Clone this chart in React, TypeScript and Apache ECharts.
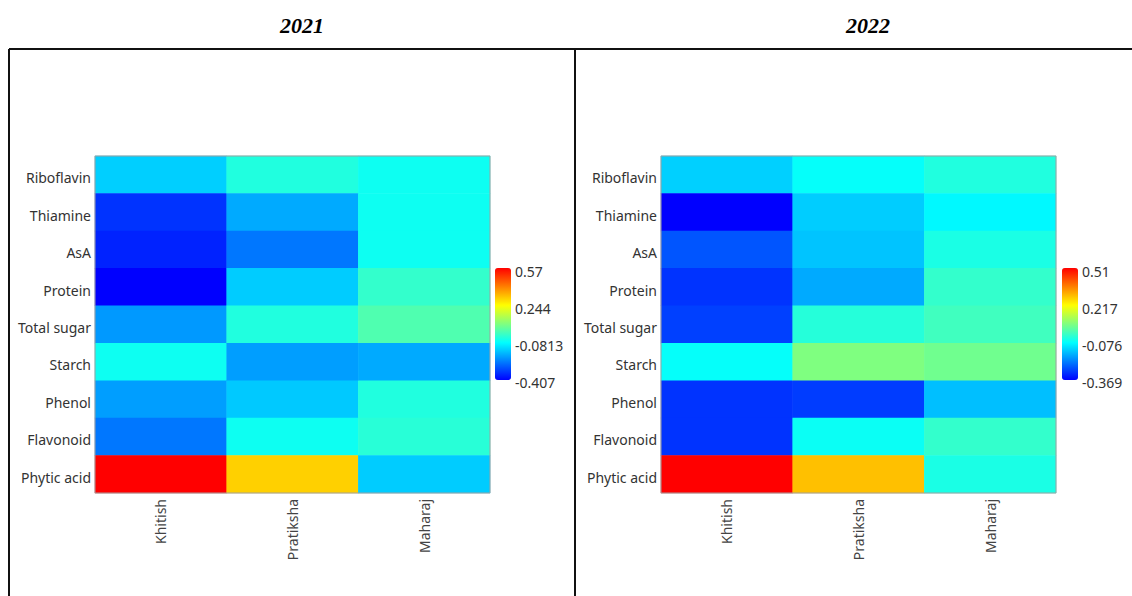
import { useEffect, useRef } from 'react';
import * as echarts from 'echarts';

// Nutritional traits (rows, top to bottom) and cultivars (columns)
const TRAITS = ['Riboflavin', 'Thiamine', 'AsA', 'Protein', 'Total sugar', 'Starch', 'Phenol', 'Flavonoid', 'Phytic acid'];
const CULTIVARS = ['Khitish', 'Pratiksha', 'Maharaj'];
const YEARS = ['2021', '2022'];

// 2021 values per cultivar, in TRAITS order
const KHITISH_2021 = [-0.143, -0.342, -0.364, -0.407, -0.212, -0.065, -0.205, -0.255, 0.57];
const PRATIKSHA_2021 = [-0.041, -0.19, -0.255, -0.146, -0.041, -0.205, -0.15, -0.065, 0.304];
const MAHARAJ_2021 = [-0.065, -0.065, -0.065, -0.016, 0.02, -0.19, -0.04, -0.03, -0.146];

// 2022 values per cultivar, in TRAITS order
const KHITISH_2022 = [-0.13, -0.369, -0.271, -0.31, -0.295, -0.07, -0.31, -0.31, 0.51];
const PRATIKSHA_2022 = [-0.07, -0.134, -0.144, -0.174, -0.033, 0.07, -0.3, -0.065, 0.289];
const MAHARAJ_2022 = [-0.039, -0.083, -0.046, -0.017, -0.003, 0.053, -0.149, -0.017, -0.046];

// Colour-scale tick labels, bottom to top
const SCALE_TICKS_2021 = ['-0.407', '-0.0813', '0.244', '0.57'];
const SCALE_TICKS_2022 = ['-0.369', '-0.076', '0.217', '0.51'];

const JET = ['#0000ff', '#00ffff', '#ffff00', '#ff0000'];
const LABEL_FONT = '"Noto Sans", "Open Sans", sans-serif';

function toCells(columns: number[][]) {
  const cells: [number, number, number][] = [];
  columns.forEach((col, c) => col.forEach((v, r) => cells.push([c, r, v])));
  return cells;
}

const panels = [
  { year: YEARS[0], columns: [KHITISH_2021, PRATIKSHA_2021, MAHARAJ_2021], ticks: SCALE_TICKS_2021, gridLeft: 95, barLeft: 495, titleX: 302 },
  { year: YEARS[1], columns: [KHITISH_2022, PRATIKSHA_2022, MAHARAJ_2022], ticks: SCALE_TICKS_2022, gridLeft: 661, barLeft: 1062, titleX: 868 },
];

function buildOption(): echarts.EChartsOption {
  const grid: any[] = [];
  const xAxis: any[] = [];
  const yAxis: any[] = [];
  const series: any[] = [];
  const visualMap: any[] = [];
  const graphic: any[] = [];

  panels.forEach((p, i) => {
    // heatmap grid
    grid.push({
      left: p.gridLeft, top: 156, width: 395, height: 337,
      show: true, borderColor: '#a0a0a0', borderWidth: 1, backgroundColor: 'transparent', z: 5,
    });
    xAxis.push({
      type: 'category', gridIndex: i * 2, data: CULTIVARS, position: 'bottom',
      axisLine: { show: false }, axisTick: { show: false }, splitLine: { show: false },
      axisLabel: { rotate: 90, fontSize: 14, color: '#444', margin: 6, fontFamily: LABEL_FONT },
    });
    // trait labels sit a little below the row centre
    yAxis.push({
      type: 'category', gridIndex: i * 2, data: TRAITS, inverse: true,
      axisLine: { show: false }, axisTick: { show: false }, splitLine: { show: false },
      axisLabel: { fontSize: 14, color: '#333', margin: 4, verticalAlign: 'top', lineHeight: 6, fontFamily: LABEL_FONT },
    });
    series.push({
      type: 'heatmap', xAxisIndex: i * 2, yAxisIndex: i * 2,
      data: toCells(p.columns), itemStyle: { borderWidth: 0 }, emphasis: { disabled: true },
    });

    // colour-scale tick labels
    grid.push({ left: p.barLeft, top: 271, width: 16, height: 111, show: false });
    xAxis.push({ type: 'value', gridIndex: i * 2 + 1, show: false });
    yAxis.push({
      type: 'category', gridIndex: i * 2 + 1, data: p.ticks, boundaryGap: false, position: 'right',
      axisLine: { show: false }, axisTick: { show: false }, splitLine: { show: false },
      axisLabel: { fontSize: 14, color: '#333', margin: 4, fontFamily: LABEL_FONT },
    });

    visualMap.push({
      type: 'continuous', seriesIndex: i,
      min: parseFloat(p.ticks[0]), max: parseFloat(p.ticks[p.ticks.length - 1]),
      calculable: false, left: p.barLeft, top: 268, itemWidth: 16, itemHeight: 112, padding: 0,
      inRange: { color: JET },
    });

    graphic.push({
      type: 'text', x: p.titleX, y: 25,
      style: { text: p.year, align: 'center', verticalAlign: 'middle', font: 'italic bold 22px "Liberation Serif", "Times New Roman", serif', fill: '#000' },
    });
  });

  // panel frame
  const frame = { stroke: '#111', lineWidth: 2 };
  graphic.push(
    { type: 'line', shape: { x1: 9, y1: 49, x2: 1132, y2: 49 }, style: frame },
    { type: 'line', shape: { x1: 9, y1: 49, x2: 9, y2: 596 }, style: frame },
    { type: 'line', shape: { x1: 575, y1: 49, x2: 575, y2: 596 }, style: frame },
  );

  return { animation: false, backgroundColor: '#fff', grid, xAxis, yAxis, series, visualMap, graphic };
}

export default function App() {
  const ref = useRef<HTMLDivElement>(null);
  useEffect(() => {
    const chart = echarts.init(ref.current!, null, { renderer: 'svg' });
    chart.setOption(buildOption());
    return () => chart.dispose();
  }, []);
  return <div ref={ref} style={{ position: 'absolute', left: 0, top: 0, width: 1132, height: 596 }} />;
}
